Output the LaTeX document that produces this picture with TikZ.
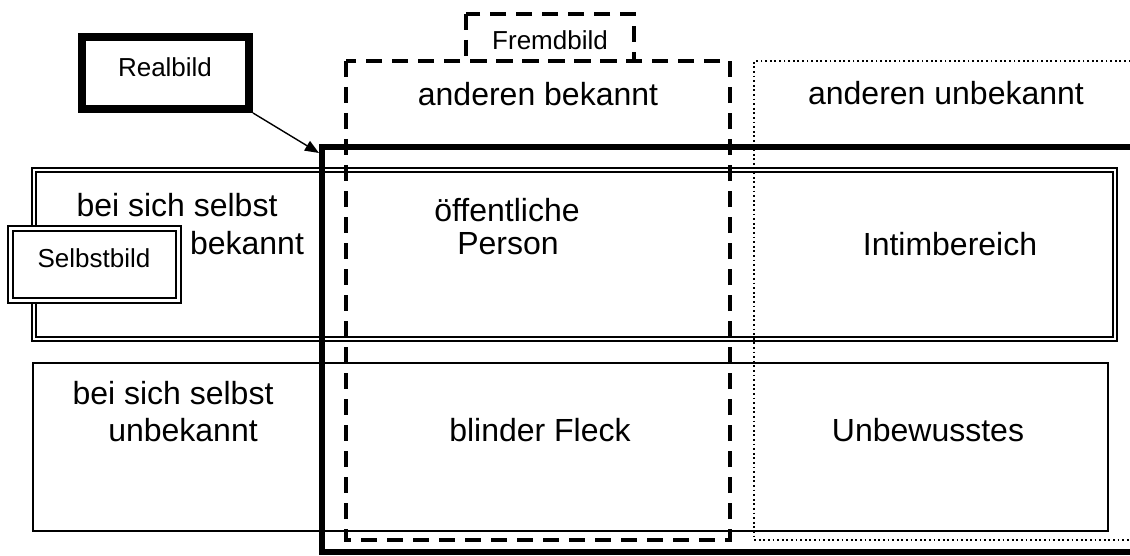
\documentclass[tikz,border=0pt]{standalone}
\usepackage{fontspec}
\setmainfont{Liberation Sans}
\usetikzlibrary{arrows.meta}
\tikzset{
  big/.style={font=\fontsize{16}{19}\selectfont, inner sep=0pt},
  small/.style={font=\fontsize{13}{15}\selectfont, inner sep=0pt},
  realbox/.style={draw, line width=4pt, minimum width=83.5pt, minimum height=36pt, inner sep=0pt},
  selbstbox/.style={draw, fill=white, double, line width=1pt, double distance=1.4pt, minimum width=84pt, minimum height=36pt, inner sep=0pt},
  frembox/.style={draw, line width=1.7pt, dash pattern=on 8pt off 5pt},
  dotbox/.style={line width=1pt, dash pattern=on 0.9pt off 1.4pt},
  rowone/.style={draw, double, line width=1pt, double distance=1.4pt},
  rowtwo/.style={draw, line width=0.8pt},
  realframe/.style={line width=3.2pt},
  pointer/.style={line width=0.7pt, -{Triangle[length=7pt,width=5.5pt]}}
}
\begin{document}
\begin{tikzpicture}[x=0.5pt,y=-0.5pt]
\useasboundingbox (0,0) rectangle (1130,556);
% rows
\draw[rowone] (34,170) rectangle (1115,339);
\draw[rowtwo] (33,363) rectangle (1108,531);
% dotted column
\draw[dotbox] (1135,61) -- (754,61) -- (754,540) -- (1135,540);
% Fremdbild dashed column and label box
\draw[frembox] (346,61) rectangle (730,540);
\draw[frembox] (466,14) rectangle (634,61);
\node[small] (fremd) at (550,40) {Fremdbild};
% Realbild frame
\draw[realframe] (1135,147) -- (322,147) -- (322,552) -- (1135,552);
\coordinate (rc) at (319,153);
% Realbild box
\node[realbox] (real) at (165.5,73) {};
\node[small] (realt) at (165,67) {Realbild};
\draw[pointer] (real.south east) -- (rc);
% Selbstbild box
\node[selbstbox] (selbst) at (94.5,264.5) {};
\node[small] (selbstt) at (94,258) {Selbstbild};
% headers
\node[big] (ab) at (538,94) {anderen bekannt};
\node[big] (au) at (946,93) {anderen unbekannt};
% row 1 texts
\node[big] (r1a) at (177,205) {bei sich selbst};
\node[big] (r1b) at (247,243) {bekannt};
\node[big] (oe) at (507,210) {öffentliche};
\node[big] (pe) at (508,244) {Person};
\node[big] (ib) at (950,244) {Intimbereich};
% row 2 texts
\node[big] (r2a) at (173,393) {bei sich selbst};
\node[big] (r2b) at (183,430) {unbekannt};
\node[big] (bf) at (540,430) {blinder Fleck};
\node[big] (ub) at (928,430) {Unbewusstes};
\end{tikzpicture}
\end{document}
